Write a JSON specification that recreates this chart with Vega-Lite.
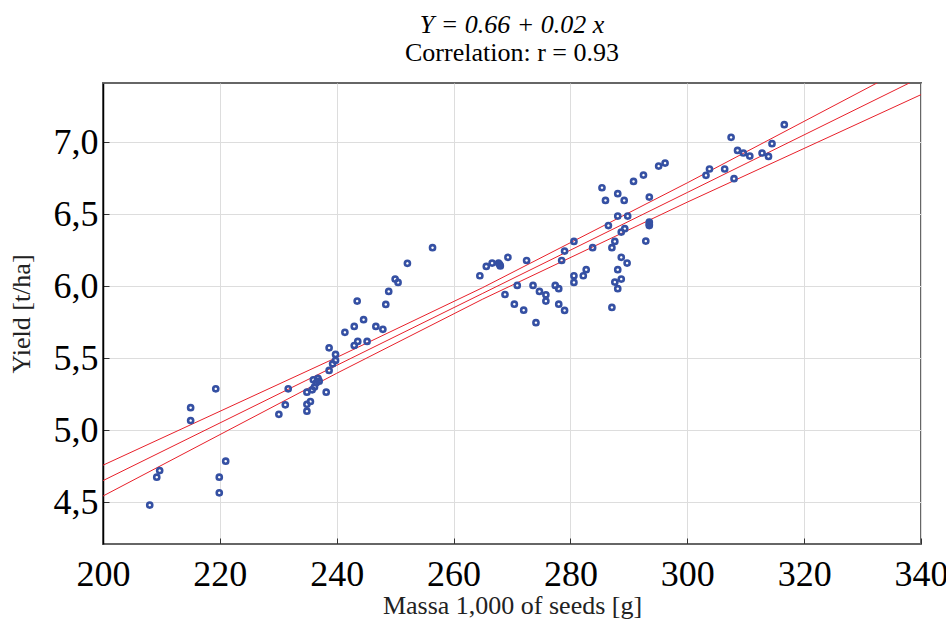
{
  "$schema": "https://vega.github.io/schema/vega-lite/v6.json",
  "width": 818,
  "height": 461,
  "autosize": {"type": "none"},
  "padding": {"left": 103, "top": 83, "right": 25, "bottom": 75},
  "background": "white",
  "title": {
    "text": "Y = 0.66 + 0.02 x",
    "subtitle": "Correlation: r = 0.93",
    "font": "Liberation Serif",
    "fontSize": 26,
    "fontStyle": "italic",
    "fontWeight": "normal",
    "color": "black",
    "subtitleFont": "Liberation Serif",
    "subtitleFontSize": 26,
    "subtitleColor": "black",
    "subtitlePadding": 2,
    "anchor": "middle",
    "frame": "group",
    "offset": 17
  },
  "config": {
    "view": {"stroke": "#666666", "strokeWidth": 2},
    "axis": {
      "labelFont": "Liberation Serif",
      "titleFont": "Liberation Serif",
      "labelFontSize": 36,
      "titleFontSize": 26,
      "labelColor": "black",
      "titleColor": "#222222",
      "titleFontWeight": "normal",
      "gridColor": "#dddddd",
      "gridWidth": 1,
      "tickColor": "#333333",
      "tickSize": -6,
      "domain": false
    }
  },
  "datasets": {
    "points": [
      {"mass": 208.0, "yield": 4.48}, {"mass": 209.2, "yield": 4.674}, {"mass": 209.7, "yield": 4.72},
      {"mass": 215.0, "yield": 5.156}, {"mass": 215.0, "yield": 5.067}, {"mass": 219.3, "yield": 5.287},
      {"mass": 219.9, "yield": 4.674}, {"mass": 219.9, "yield": 4.565}, {"mass": 221.0, "yield": 4.785},
      {"mass": 230.1, "yield": 5.11}, {"mass": 231.2, "yield": 5.176}, {"mass": 231.7, "yield": 5.287},
      {"mass": 234.9, "yield": 5.264}, {"mass": 234.9, "yield": 5.18}, {"mass": 235.5, "yield": 5.199},
      {"mass": 234.9, "yield": 5.132}, {"mass": 238.2, "yield": 5.264}, {"mass": 236.0, "yield": 5.35},
      {"mass": 236.5, "yield": 5.33}, {"mass": 236.2, "yield": 5.30}, {"mass": 236.8, "yield": 5.36},
      {"mass": 235.8, "yield": 5.28}, {"mass": 237.0, "yield": 5.34}, {"mass": 238.7, "yield": 5.415},
      {"mass": 239.3, "yield": 5.461}, {"mass": 239.8, "yield": 5.484}, {"mass": 239.8, "yield": 5.526},
      {"mass": 238.7, "yield": 5.572}, {"mass": 241.4, "yield": 5.679}, {"mass": 243.0, "yield": 5.588},
      {"mass": 243.6, "yield": 5.616}, {"mass": 243.0, "yield": 5.72}, {"mass": 244.6, "yield": 5.767},
      {"mass": 245.2, "yield": 5.616}, {"mass": 243.5, "yield": 5.896}, {"mass": 246.7, "yield": 5.72},
      {"mass": 247.9, "yield": 5.70}, {"mass": 248.4, "yield": 5.873}, {"mass": 248.9, "yield": 5.963},
      {"mass": 250.0, "yield": 6.049}, {"mass": 250.5, "yield": 6.026}, {"mass": 252.1, "yield": 6.158},
      {"mass": 256.4, "yield": 6.267},
      {"mass": 264.5, "yield": 6.072}, {"mass": 265.6, "yield": 6.137}, {"mass": 266.6, "yield": 6.16},
      {"mass": 267.7, "yield": 6.16}, {"mass": 268.0, "yield": 6.14}, {"mass": 267.9, "yield": 6.15},
      {"mass": 269.3, "yield": 6.20}, {"mass": 268.8, "yield": 5.942}, {"mass": 270.9, "yield": 6.005},
      {"mass": 270.4, "yield": 5.875}, {"mass": 272.0, "yield": 5.833}, {"mass": 272.5, "yield": 6.178},
      {"mass": 273.6, "yield": 6.005}, {"mass": 274.7, "yield": 5.963}, {"mass": 274.1, "yield": 5.746},
      {"mass": 275.8, "yield": 5.94}, {"mass": 275.8, "yield": 5.896}, {"mass": 277.4, "yield": 6.005},
      {"mass": 278.0, "yield": 5.982}, {"mass": 278.0, "yield": 5.875}, {"mass": 279.0, "yield": 5.831},
      {"mass": 278.5, "yield": 6.178}, {"mass": 279.0, "yield": 6.243}, {"mass": 280.6, "yield": 6.31},
      {"mass": 280.6, "yield": 6.072}, {"mass": 280.6, "yield": 6.026}, {"mass": 282.2, "yield": 6.072},
      {"mass": 282.7, "yield": 6.114}, {"mass": 283.8, "yield": 6.267},
      {"mass": 285.4, "yield": 6.683}, {"mass": 286.0, "yield": 6.595}, {"mass": 286.5, "yield": 6.42},
      {"mass": 287.1, "yield": 6.267}, {"mass": 287.6, "yield": 6.31}, {"mass": 287.1, "yield": 5.852},
      {"mass": 288.1, "yield": 6.642}, {"mass": 289.2, "yield": 6.595}, {"mass": 288.1, "yield": 6.486},
      {"mass": 289.8, "yield": 6.486}, {"mass": 288.7, "yield": 6.375}, {"mass": 289.3, "yield": 6.399},
      {"mass": 288.7, "yield": 6.20}, {"mass": 289.7, "yield": 6.16}, {"mass": 288.1, "yield": 6.114},
      {"mass": 287.6, "yield": 6.028}, {"mass": 288.7, "yield": 6.049}, {"mass": 288.1, "yield": 5.982},
      {"mass": 290.8, "yield": 6.727}, {"mass": 292.5, "yield": 6.771}, {"mass": 293.5, "yield": 6.618},
      {"mass": 293.5, "yield": 6.444}, {"mass": 293.5, "yield": 6.42}, {"mass": 293.5, "yield": 6.43},
      {"mass": 292.9, "yield": 6.313}, {"mass": 295.1, "yield": 6.833}, {"mass": 296.2, "yield": 6.854},
      {"mass": 303.2, "yield": 6.769}, {"mass": 303.8, "yield": 6.813}, {"mass": 306.4, "yield": 6.813},
      {"mass": 307.5, "yield": 7.033}, {"mass": 308.0, "yield": 6.746}, {"mass": 308.6, "yield": 6.942},
      {"mass": 309.6, "yield": 6.924}, {"mass": 310.7, "yield": 6.903}, {"mass": 312.8, "yield": 6.924},
      {"mass": 313.9, "yield": 6.90}, {"mass": 314.5, "yield": 6.989}, {"mass": 316.6, "yield": 7.121}
    ],
    "lines": [
      {"line": "fit", "mass": 200, "yield": 4.65}, {"line": "fit", "mass": 240, "yield": 5.45},
      {"line": "fit", "mass": 265, "yield": 5.95}, {"line": "fit", "mass": 300, "yield": 6.65},
      {"line": "fit", "mass": 340, "yield": 7.45},
      {"line": "upper", "mass": 200, "yield": 4.757}, {"line": "upper", "mass": 240, "yield": 5.505},
      {"line": "upper", "mass": 265, "yield": 5.99}, {"line": "upper", "mass": 300, "yield": 6.717},
      {"line": "upper", "mass": 340, "yield": 7.571},
      {"line": "lower", "mass": 200, "yield": 4.543}, {"line": "lower", "mass": 240, "yield": 5.395},
      {"line": "lower", "mass": 265, "yield": 5.91}, {"line": "lower", "mass": 300, "yield": 6.583},
      {"line": "lower", "mass": 340, "yield": 7.329}
    ]
  },
  "layer": [
    {
      "data": {"name": "lines"},
      "mark": {"type": "line", "color": "#e8202a", "strokeWidth": 1, "clip": true},
      "encoding": {
        "x": {
          "field": "mass", "type": "quantitative",
          "scale": {"domain": [200, 340], "nice": false, "zero": false},
          "axis": {
            "values": [200, 220, 240, 260, 280, 300, 320, 340],
            "title": "Massa 1,000 of seeds [g]",
            "labelFont": "Liberation Serif",
            "labelFlush": false,
            "labelPadding": 19,
            "titlePadding": 0,
            "grid": true
          }
        },
        "y": {
          "field": "yield", "type": "quantitative",
          "scale": {"domain": [4.21, 7.41], "nice": false, "zero": false},
          "axis": {
            "values": [4.5, 5.0, 5.5, 6.0, 6.5, 7.0],
            "labelExpr": "replace(format(datum.value, '.1f'), '.', ',')",
            "title": "Yield [t/ha]",
            "labelFont": "Liberation Serif",
            "labelPadding": 11,
            "titlePadding": 19,
            "grid": true,
            "domain": true,
            "domainColor": "black",
            "domainWidth": 1.5
          }
        },
        "detail": {"field": "line"}
      }
    },
    {
      "data": {"name": "points"},
      "mark": {"type": "point", "shape": "circle", "filled": false, "color": "#3550a3", "strokeWidth": 2.6, "size": 26, "opacity": 1},
      "encoding": {
        "x": {"field": "mass", "type": "quantitative"},
        "y": {"field": "yield", "type": "quantitative"}
      }
    }
  ]
}
